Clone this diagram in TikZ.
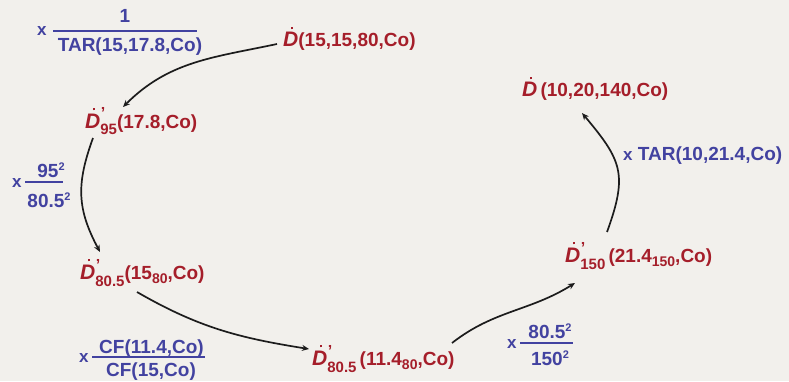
\documentclass[tikz,border=0pt]{standalone}
\usepackage{fontspec}
\setmainfont{Liberation Sans}
\usetikzlibrary{arrows.meta,calc}
\definecolor{bgc}{RGB}{242,240,236}
\definecolor{dred}{RGB}{165,30,42}
\definecolor{dblue}{RGB}{66,66,160}
\definecolor{arrc}{RGB}{28,28,28}
\newcommand\Dd{{\fontsize{21}{21}\selectfont\bfseries\itshape\makebox[0pt][l]{\hspace{0.36em}\raisebox{0.84em}{\rule{2.6pt}{2.6pt}}}D}}
\newcommand\Dp[1]{\Dd\makebox[0pt][l]{\hspace{0.5pt}\raisebox{9pt}{\fontsize{16}{16}\selectfont ’}}\raisebox{-7pt}{\fontsize{15}{15}\selectfont #1}}
\newcommand\sbs[1]{\raisebox{-4pt}{\fontsize{14}{14}\selectfont #1}}
\newcommand\sq{\raisebox{7pt}{\fontsize{11}{11}\selectfont 2}}
\newcommand\xs{{\fontsize{17}{17}\selectfont x}}
\tikzset{
  rtxt/.style={text=dred, font=\fontsize{19}{20}\selectfont\bfseries, inner sep=0pt, anchor=base west},
  btxt/.style={text=dblue, font=\fontsize{19}{20}\selectfont\bfseries, inner sep=0pt, anchor=base},
  xmark/.style={text=dblue, font=\fontsize{17}{17}\selectfont\bfseries, inner sep=0pt, anchor=base west},
  fbar/.style={draw=dblue, line width=1.6pt},
  conn/.style={draw=arrc, line width=1.7pt, -{Stealth[length=7pt,width=6pt]}}
}
\begin{document}
\begin{tikzpicture}[x=1pt,y=1pt]
\useasboundingbox (0,0) rectangle (789,381);
\fill[bgc] (0,0) rectangle (789,381);
% main nodes
\node[rtxt] (n1) at (283,334) {\Dd(15,15,80,Co)};
\node[rtxt] (n2) at (85,253) {\Dp{95}(17.8,Co)};
\node[rtxt] (n3) at (522,284) {\Dd\,(10,20,140,Co)};
\node[rtxt] (n4) at (80,102) {\Dp{80.5}(15\sbs{80},Co)};
\node[rtxt] (n5) at (312,16) {\Dp{80.5}\,(11.4\sbs{80},Co)};
\node[rtxt] (n6) at (565,119) {\Dp{150}\,(21.4\sbs{150},Co)};
% label 1
\node[xmark] (x1) at (37,345) {x};
\coordinate (b1a) at (53,350); \coordinate (b1b) at (197,350);
\draw[fbar] (b1a) -- (b1b);
\node[btxt] (u1) at (125,358) {1};
\node[btxt] (d1) at (130,329) {TAR(15,17.8,Co)};
% label 2
\node[xmark] (x2) at (12,194) {x};
\coordinate (b2a) at (25,199); \coordinate (b2b) at (63,199);
\draw[fbar] (b2a) -- (b2b);
\node[btxt] (u2) at (51,204) {95\sq};
\node[btxt] (d2) at (49,174) {80.5\sq};
% label 3
\node[xmark] (x3) at (79,19) {x};
\coordinate (b3a) at (92,24); \coordinate (b3b) at (205,24);
\draw[fbar] (b3a) -- (b3b);
\node[btxt] (u3) at (151.5,28) {CF(11.4,Co)};
\node[btxt] (d3) at (151,4.5) {CF(15,Co)};
% label 4
\node[xmark] (x4) at (507,33) {x};
\coordinate (b4a) at (520,38); \coordinate (b4b) at (573,38);
\draw[fbar] (b4a) -- (b4b);
\node[btxt] (u4) at (550,43) {80.5\sq};
\node[btxt] (d4) at (550,16) {150\sq};
% label 5
\node[btxt, anchor=base west] (l5) at (623,221) {\xs\ TAR(10,21.4,Co)};
% connectors
\draw[conn] ([shift={(-6,3)}]n1.base west) to[out=192,in=45] ([shift={(38,21)}]n2.base west);
\draw[conn] ([shift={(8,-10)}]n2.base west) to[out=250,in=118,looseness=1.1] ([shift={(20,27)}]n4.base west);
\draw[conn] ([shift={(57,-13)}]n4.base west) to[out=330,in=171] ([shift={(-3,16)}]n5.base west);
\draw[conn] ([shift={(140,22)}]n5.base west) to[out=38,in=212] ([shift={(10,-21)}]n6.base west);
\draw[conn] ([shift={(42,30)}]n6.base west) to[out=70,in=-50,looseness=1.3] ([shift={(60,-16)}]n3.base west);
\end{tikzpicture}
\end{document}
